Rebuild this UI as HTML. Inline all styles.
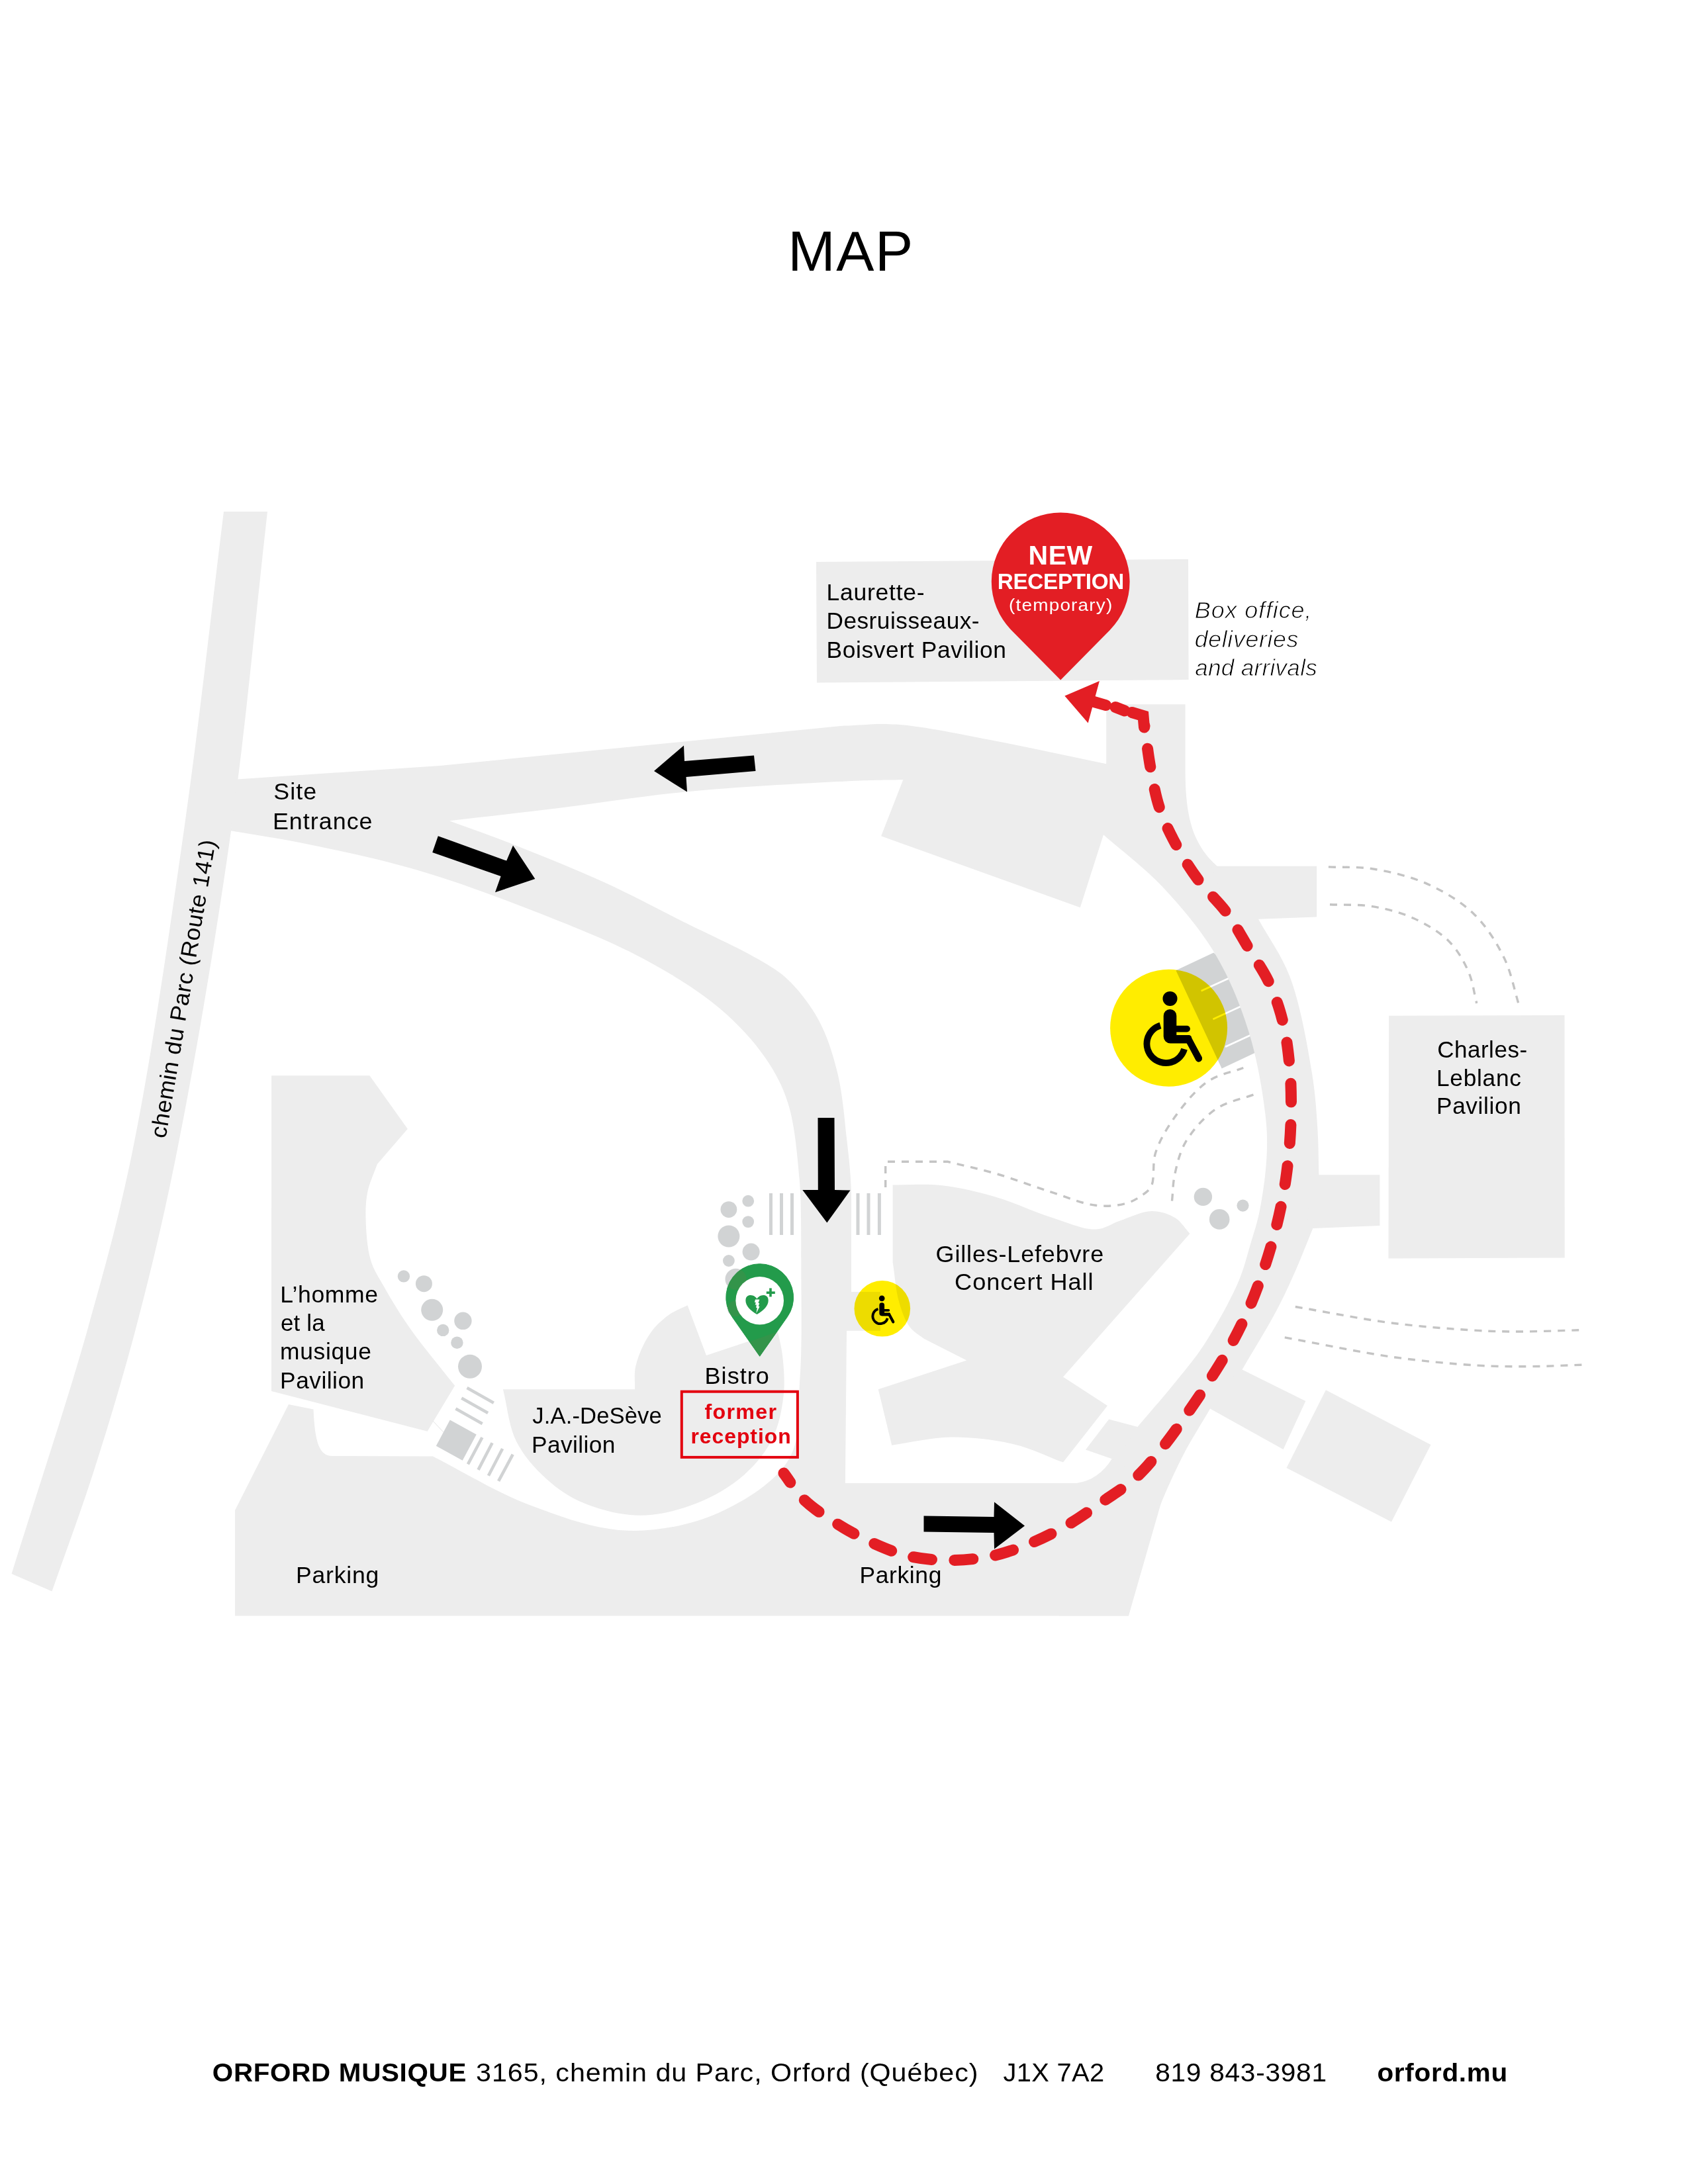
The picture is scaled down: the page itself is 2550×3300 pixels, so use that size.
<!DOCTYPE html>
<html><head><meta charset="utf-8"><title>Map</title>
<style>
html,body{margin:0;padding:0;background:#fff;}
svg{display:block;}
text{font-family:"Liberation Sans", sans-serif;}
</style></head>
<body>
<svg width="2550" height="3300" viewBox="0 0 2550 3300">
<rect width="2550" height="3300" fill="#fff"/>
<path d="M1776.4,1466.2 L1833.3,1439.5 L1870,1470 L1915,1585 L1898.2,1589.7 L1845.7,1614.6 Z" fill="#d1d3d4"/>
<line x1="1814.6" y1="1497.3" x2="1860" y2="1476.5" stroke="#fff" stroke-width="2.6"/>
<line x1="1832.4" y1="1540" x2="1878" y2="1519" stroke="#fff" stroke-width="2.6"/>
<line x1="1851" y1="1581.7" x2="1896" y2="1561" stroke="#fff" stroke-width="2.6"/>
<path d="M338,773 L404,773 C385.7,933.5 371.9,1094 349.2,1254.5 C326.4,1416.3 294.9,1602.4 267.3,1740 C246.7,1842.9 227.3,1923.4 205,2008 C184.6,2085.3 162.2,2159 140,2228 C119.9,2290.3 99,2345.7 78.5,2404.5 L17.5,2378 C55.8,2254.7 100.5,2121.8 132.5,2008 C159.5,1911.9 178.8,1843.2 200,1740 C228.4,1601.6 255.4,1412.4 278.5,1250 C301.3,1090.1 318.2,932 338,773 Z" fill="#ededed"/>
<path d="M358,1177.4 L664.7,1157 L1275,1096.5 C1301.3,1095.9 1323.5,1092.4 1354,1094.6 C1396.8,1097.6 1455.4,1110.6 1507.3,1120.3 C1561.1,1130.4 1616.6,1143 1671.2,1154.3 L1671.2,1064.3 L1790.6,1064.3 L1790.6,1166 C1791,1230 1800,1275 1839,1309 L1901,1388.7 C1916.9,1418 1936,1442.6 1948.8,1476.6 C1964.5,1518 1975.1,1580 1982,1621.8 C1987.1,1653.1 1988.6,1678.2 1990.3,1704.7 C1991.9,1729.1 1991.7,1751.7 1992.4,1775.2 L1983.3,1856 C1974.6,1877.1 1966.5,1898.6 1957.3,1919.4 C1948.2,1940 1940,1958.1 1928.5,1980 C1914.2,2007.2 1893.8,2039.6 1876.5,2069.4 L1828.1,2128.6 C1813.5,2154.1 1798,2177.3 1784.2,2205 C1768.8,2235.9 1753.6,2269.4 1741,2306 C1726.7,2347.4 1716.9,2396.3 1704.9,2441.5 L1600,2441.5 L1679.7,2204.2 C1692.6,2188.1 1704.6,2172.9 1718.5,2156 C1734.3,2136.9 1753.1,2116 1769.8,2095.4 C1786.6,2074.7 1803.1,2056 1818.8,2032 C1837,2004.1 1858.7,1964.9 1870.8,1936.7 C1879.7,1915.8 1883.5,1898.5 1889,1880 C1894.2,1862.6 1899.2,1848.2 1903,1829 C1907.8,1804.8 1912.4,1771.7 1913.6,1746 C1914.6,1723.9 1914.3,1708.1 1911.5,1684 C1907.5,1649.5 1899.1,1599.7 1886.6,1559.6 C1874.2,1519.5 1858.3,1479.7 1836.9,1443.4 C1815.1,1406.4 1785.3,1370.9 1756.2,1340 C1728.5,1310.6 1696.7,1287.5 1667,1261.3 L1631.8,1371.2 L1331.1,1263.3 L1364.3,1178.3 C1342.9,1178.7 1328.6,1178.4 1300,1179.6 C1242.6,1182 1121.3,1188.4 1041,1196 C970.7,1202.7 906.8,1213.4 844,1221 C786.6,1228 734,1233.8 679,1240.2 C711.6,1252.3 741.5,1262.5 776.7,1276.4 C818.9,1293 871.1,1314 914.7,1333.9 C955.1,1352.4 991.3,1372.2 1029.6,1391.4 C1067.9,1410.5 1115.3,1431.6 1144.5,1448.8 C1163.8,1460.2 1176.2,1466.8 1190.5,1480.4 C1207.2,1496.3 1224.1,1518.2 1236.4,1540.8 C1249.4,1564.8 1258.1,1592.3 1265.2,1621.2 C1273,1653.1 1276,1694 1279.5,1724.6 C1282.3,1748.9 1284.4,1767.1 1285.5,1790 C1286.7,1815.3 1285.8,1843.3 1286,1870 L1286,1900 L1210.6,1900 L1210.6,1870 C1209.6,1840.7 1210.5,1813.3 1207.7,1782.1 C1204.4,1746.3 1200.9,1699.9 1190.5,1667.2 C1182.1,1640.5 1171.5,1620.6 1156,1598.2 C1138.2,1572.5 1114.6,1546.8 1087,1523.5 C1054.9,1496.4 1015.4,1472 972.1,1448.8 C921.4,1421.6 857.6,1396.7 799.7,1374.1 C742.6,1351.8 685.2,1330.6 627.3,1313.8 C570.3,1297.2 505.6,1283.8 454.9,1273.5 C415.3,1265.5 384,1261.3 348.6,1255.2 Z" fill="#ededed"/>
<path d="M1233,849 L1795,845 L1795.6,1027 L1234,1031.5 Z" fill="#ededed"/>
<path d="M1830,1308.7 L1989.2,1308.7 L1989.2,1385.5 L1901,1388.7 L1860,1388.7 Z" fill="#ededed"/>
<path d="M1980,1775.2 L2084.4,1775.2 L2084.4,1851.9 L1983.3,1856 L1975,1856 Z" fill="#ededed"/>
<path d="M2098.1,1534.7 L2363.5,1534 L2363.7,1900.6 L2097.5,1901.5 Z" fill="#ededed"/>
<path d="M1876.5,2069.4 L1972.3,2117 L1938.6,2190 L1828.1,2128.6 L1850,2090 Z" fill="#ededed"/>
<path d="M2002.9,2100.3 L2161.5,2183 L2102,2299.5 L1943.5,2218 Z" fill="#ededed"/>
<path d="M1348.6,1790.5 C1373.6,1790.8 1398.1,1788.4 1423.5,1791.3 C1450.3,1794.3 1478.3,1801.2 1505.3,1809 C1532.8,1817 1560.8,1830.7 1587,1839 C1610.6,1846.5 1635.9,1858.2 1655.1,1857.5 C1669.4,1857 1678.8,1848.7 1692,1844.4 C1706.9,1839.5 1725.2,1830.1 1740,1830 C1752.6,1829.9 1765.3,1834.1 1775,1840 C1784.3,1845.6 1790,1856 1797.5,1864 L1606,2080.5 L1673,2124 L1606,2209.6 C1581.5,2200.5 1559,2188.7 1532.5,2182.4 C1503.2,2175.4 1468.4,2171.2 1437.1,2171.5 C1406.7,2171.8 1377.2,2179.6 1347.2,2183.7 L1326.8,2099.3 L1460.3,2055.6 L1396.3,2023 C1389,2017.1 1380.5,2013.2 1374.5,2005.2 C1367.2,1995.5 1362.3,1981.5 1358.1,1967 C1353,1949.5 1351.8,1927 1348.6,1907 Z" fill="#ededed"/>
<path d="M1675.2,2144.4 L1718.5,2156 L1700,2185 L1679.7,2204.2 L1640,2190.6 Z" fill="#ededed"/>
<path d="M410.1,1625.2 L558.4,1625.2 L615.8,1705.7 L569.9,1759.1 C565.1,1772.7 558.4,1786.2 555.5,1800 C552.7,1813.2 552.2,1825.1 552.5,1840 C552.9,1858.9 554.5,1885.6 560,1904 C564.6,1919.4 571.8,1929.3 580,1944 C590.7,1963.1 604.3,1985.5 620,2008 C638.9,2035 664.7,2065.2 687.1,2093.8 L645.6,2162.8 L410,2102 Z" fill="#ededed"/>
<path d="M355,2441.5 L355,2282 L436,2122 L473.5,2129.5 C475.5,2178 482,2200 502,2200 L653.8,2200.4 C702.5,2224.9 750,2255.2 800,2274 C848.5,2292.3 900.1,2311.4 949,2312.8 C995.7,2314.1 1045.9,2303.8 1086.8,2285.2 C1126.6,2267.1 1172,2238.9 1192.1,2204.2 C1211.4,2170.8 1205.1,2128.4 1208.4,2082.6 C1212.6,2023.8 1209.7,1947.5 1210.4,1880 L1210.4,1860 L1286,1860 L1286,1952 L1330,1952 L1330,2010.7 L1279,2010.7 L1276.9,2241 L1626.5,2241 Q1660,2236 1679.7,2204.2 L1760,2250 L1704.9,2441.5 Z" fill="#ededed"/>
<path d="M759.9,2099.3 L959,2099.3 C959.5,2087.4 957.5,2076.2 960.4,2063.7 C963.9,2048.5 972.6,2028.7 981.7,2015.4 C989.6,2003.8 1000,1994.4 1010.1,1987 C1019.1,1980.4 1029.1,1977.1 1038.6,1972.2 L1067,2048.1 L1175,2012 C1177.4,2024.5 1180.7,2035.5 1182.2,2049.5 C1184.1,2067 1186,2089 1183.6,2109.2 C1181.1,2130.7 1176.4,2154.8 1166.5,2174.6 C1156.5,2194.6 1141.6,2213.1 1123.9,2228.7 C1104.4,2245.8 1078.5,2261.1 1052.8,2271.3 C1026.4,2281.7 995.9,2289.8 967.5,2289.8 C939.1,2289.8 907,2281.6 882.2,2271.3 C860.4,2262.2 842.1,2249.6 825.3,2234.4 C807.8,2218.6 790.6,2199.3 779.8,2177.5 C768.4,2154.6 766.5,2125.4 759.9,2099.3 Z" fill="#ededed"/>
<circle cx="609.9" cy="1928.4" r="9.2" fill="#d1d3d4"/>
<circle cx="640.4" cy="1939.7" r="12.5" fill="#d1d3d4"/>
<circle cx="652.7" cy="1979.3" r="16.5" fill="#d1d3d4"/>
<circle cx="699.4" cy="1995.8" r="13.2" fill="#d1d3d4"/>
<circle cx="669.2" cy="2009.9" r="9.2" fill="#d1d3d4"/>
<circle cx="690.4" cy="2028.8" r="9.2" fill="#d1d3d4"/>
<circle cx="710" cy="2064.8" r="18" fill="#d1d3d4"/>
<circle cx="1100.9" cy="1827.6" r="12.4" fill="#d1d3d4"/>
<circle cx="1130.2" cy="1814.7" r="8.9" fill="#d1d3d4"/>
<circle cx="1130.2" cy="1846.1" r="8.9" fill="#d1d3d4"/>
<circle cx="1100.9" cy="1868" r="16.5" fill="#d1d3d4"/>
<circle cx="1134.6" cy="1891.6" r="13" fill="#d1d3d4"/>
<circle cx="1100.9" cy="1905" r="8.9" fill="#d1d3d4"/>
<circle cx="1111.5" cy="1932.8" r="16" fill="#d1d3d4"/>
<circle cx="1111" cy="1977.2" r="12" fill="#d1d3d4"/>
<circle cx="1144.4" cy="1966.2" r="13.6" fill="#d1d3d4"/>
<circle cx="1817.4" cy="1808.4" r="13.7" fill="#d1d3d4"/>
<circle cx="1842.2" cy="1842.4" r="15.3" fill="#d1d3d4"/>
<circle cx="1877.5" cy="1821.6" r="9.1" fill="#d1d3d4"/>
<rect x="1162" y="1803" width="5" height="63" fill="#d1d3d4"/>
<rect x="1178" y="1803" width="5" height="63" fill="#d1d3d4"/>
<rect x="1194" y="1803" width="5" height="63" fill="#d1d3d4"/>
<rect x="1293.5" y="1803" width="5" height="63" fill="#d1d3d4"/>
<rect x="1309.5" y="1803" width="5" height="63" fill="#d1d3d4"/>
<rect x="1325.9" y="1803" width="5" height="63" fill="#d1d3d4"/>
<line x1="705.5" y1="2096.9" x2="745.8" y2="2119.8" stroke="#d1d3d4" stroke-width="4.6"/>
<line x1="697.2" y1="2112.5" x2="737.1" y2="2135" stroke="#d1d3d4" stroke-width="4.6"/>
<line x1="688.4" y1="2128.6" x2="728.7" y2="2151.3" stroke="#d1d3d4" stroke-width="4.6"/>
<line x1="728.4" y1="2172" x2="706.9" y2="2212.3" stroke="#d1d3d4" stroke-width="4.6"/>
<line x1="743.6" y1="2180.2" x2="722.5" y2="2220.9" stroke="#d1d3d4" stroke-width="4.6"/>
<line x1="759.1" y1="2189" x2="737.9" y2="2229.7" stroke="#d1d3d4" stroke-width="4.6"/>
<line x1="774.7" y1="2197.6" x2="753.1" y2="2237.9" stroke="#d1d3d4" stroke-width="4.6"/>
<path d="M679.8,2145.4 L719.7,2167.4 L698.7,2206.8 L658.8,2184.8 Z" fill="#d1d3d4"/>
<line x1="654.2" y1="2147.3" x2="669.7" y2="2163.7" stroke="#dcdcdc" stroke-width="0.8"/>
<path d="M1337.7,1794 L1337.7,1755.3 L1431.7,1755.3 C1456.2,1761.4 1480.3,1766.3 1505.3,1773.6 C1532,1781.4 1560.9,1792.6 1587,1800.9 C1610.7,1808.4 1634.6,1818.9 1655.1,1821.3 C1671.4,1823.2 1687.5,1822 1700,1818.7 C1709.8,1816.1 1718,1811.2 1724.9,1806.3 C1730.8,1802.1 1735.9,1798.9 1739.4,1791.8 C1744.8,1780.7 1740.4,1758.4 1745.6,1742 C1751.4,1723.8 1762.3,1705.3 1774.6,1688.1 C1788.1,1669.2 1805.9,1646.8 1824.4,1634.2 C1840.8,1623.1 1860.3,1620.4 1878.3,1613.5" fill="none" stroke="#c4c4c4" stroke-width="3.4" stroke-dasharray="11 10"/>
<path d="M1770.5,1814.6 C1771.9,1801.5 1771.6,1788.9 1774.6,1775.2 C1778,1759.4 1782,1741.1 1791.2,1725.4 C1801.7,1707.6 1819,1687.8 1836.9,1675.7 C1854.4,1663.9 1877,1660.5 1897,1652.9" fill="none" stroke="#c4c4c4" stroke-width="3.4" stroke-dasharray="11 10"/>
<path d="M2006.9,1309.9 C2029,1310.9 2050.1,1309.2 2073.2,1312.8 C2099.5,1316.9 2130.5,1324.1 2156.2,1335.6 C2181.6,1347 2207.2,1362.3 2226.7,1381.2 C2245.8,1399.7 2260.8,1424.1 2272.3,1447.6 C2283.4,1470.5 2287.5,1496 2295.1,1520.2" fill="none" stroke="#c4c4c4" stroke-width="3.4" stroke-dasharray="11 10"/>
<path d="M2009,1366.7 C2030.4,1367.7 2052.2,1366.1 2073.2,1369.6 C2094.3,1373.1 2116,1378.6 2135.4,1387.5 C2154.7,1396.3 2175.2,1408.4 2189.3,1422.7 C2202.2,1435.8 2211.4,1452.4 2218.4,1468.3 C2225,1483.5 2226.7,1500.1 2230.8,1516" fill="none" stroke="#c4c4c4" stroke-width="3.4" stroke-dasharray="11 10"/>
<path d="M1956.8,1974.5 C2005.8,1982.7 2056.5,1993.2 2103.9,1999.2 C2147.9,2004.8 2196.5,2008.4 2231.9,2010.4 C2256.9,2011.8 2272.6,2012 2295.9,2012 C2323.9,2012 2357.7,2010.5 2388.6,2009.7" fill="none" stroke="#c4c4c4" stroke-width="3.4" stroke-dasharray="11 10"/>
<path d="M1940.8,2020.9 C1995.2,2030.7 2052.7,2043.2 2103.9,2050.4 C2149,2056.7 2194.2,2060.9 2231.9,2063.1 C2261.6,2064.9 2285.2,2064.9 2311.9,2064.7 C2338.5,2064.5 2365.2,2063 2391.8,2062.2" fill="none" stroke="#c4c4c4" stroke-width="3.4" stroke-dasharray="11 10"/>
<path d="M661.8,1263.2 L765.2,1300.6 L775,1277.6 L808.3,1328.1 L748,1348.3 L756.6,1324.1 L653.2,1287.9 Z" fill="#000"/>
<path d="M988,1165 L1033,1126.5 L1034,1150 L1139,1141.5 L1141.5,1165 L1036.5,1174 L1038,1196.5 Z" fill="#000"/>
<path d="M1235.5,1689 L1260.5,1689 L1261,1798 L1284.5,1798.5 L1249.3,1847.5 L1212.3,1798 L1235.8,1798 Z" fill="#000"/>
<path d="M1395.5,2290.5 L1501.5,2292 L1502,2269.5 L1548,2305.5 L1502,2340.5 L1501.5,2316 L1395.5,2314.5 Z" fill="#000"/>
<path d="M1184,2226 C1194,2239.2 1201.8,2253.5 1214,2265.5 C1227.3,2278.6 1244.7,2289.8 1261.5,2300.5 C1278.8,2311.5 1297.6,2322 1316.5,2330.5 C1335.1,2338.9 1354.1,2347 1374,2351.5 C1394.1,2356.1 1415.7,2357.6 1436.5,2357.5 C1457.3,2357.4 1478.6,2355.4 1499,2351 C1519.5,2346.6 1539.7,2339 1559,2331 C1578,2323.1 1596.2,2313.8 1614,2303.5 C1632,2293 1649.4,2280.4 1666.5,2268.5 C1683.2,2256.9 1700.4,2246.7 1715.5,2233 C1731,2218.9 1744.7,2201.7 1758,2185 C1771.3,2168.3 1783.4,2150.5 1795.5,2133 C1807.5,2115.7 1819.5,2097.9 1830.5,2080.5 C1841.1,2063.8 1851.1,2047.9 1860.5,2030.5 C1870.3,2012.4 1879.7,1993.3 1888,1974 C1896.4,1954.5 1903.8,1934.1 1910.5,1914 C1917.1,1894.1 1923,1874.1 1928,1854 C1933,1834.1 1937.2,1814.3 1940.5,1794 C1943.9,1773.5 1946.3,1752.4 1948,1731.5 C1949.7,1710.7 1950.5,1689.6 1950.5,1669 C1950.5,1648.8 1950,1629.3 1948,1609 C1945.9,1587.7 1943.2,1564.8 1938,1544 C1933,1524 1926.6,1505 1918,1486.5 C1909.2,1467.5 1896.4,1449.6 1885.5,1431.5 C1874.8,1413.7 1865.3,1395.7 1853,1379 C1840.4,1361.9 1823.3,1347.2 1810.5,1330 C1798,1313.1 1786.8,1295.2 1777,1277 C1767.4,1259.2 1758.5,1241.2 1752,1222 C1745.4,1202.3 1741.8,1180.8 1738,1160 C1734.2,1139.2 1732,1118 1729,1097" fill="none" stroke="#e31e24" stroke-width="17" stroke-linecap="round" stroke-dasharray="28 34.4" stroke-dashoffset="11"/>
<path d="M1710,1076.5 L1727,1081.5 L1728.5,1099" fill="none" stroke="#e31e24" stroke-width="17" stroke-linecap="round" stroke-linejoin="miter"/>
<path d="M1685,1068.5 L1699,1074" fill="none" stroke="#e31e24" stroke-width="17" stroke-linecap="round"/>
<path d="M1651,1060 L1670.6,1065.6" fill="none" stroke="#e31e24" stroke-width="17" stroke-linecap="round"/>
<path d="M1608.4,1051.4 L1660.9,1028.9 L1643.7,1092.5 Z" fill="#e31e24"/>
<defs><g id="wc"><circle cx="-4.5" cy="-45.6" r="11" fill="#000"/><path d="M-14.3,-19.8 A9.8,9.8 0 0 1 5.3,-19.8 L5.3,9.5 L24.5,9.5 Q27.8,10 28.4,14.2 L43.4,43.2 A5,5 0 0 1 34.6,47.8 L21.2,21.9 L-4,21.9 A10.3,10.3 0 0 1 -14.3,11.6 Z" fill="#000"/><line x1="0" y1="0.1" x2="21" y2="0.1" stroke="#000" stroke-width="9.8" stroke-linecap="round"/><line x1="23" y1="15.5" x2="39" y2="44.5" stroke="#000" stroke-width="10" stroke-linecap="round"/><path d="M-19,-5 A28.9,28.9 0 1 0 17.1,30.7" fill="none" stroke="#000" stroke-width="9.8"/></g></defs>
<circle cx="1765.6" cy="1553.3" r="88.5" fill="#ffed00" style="mix-blend-mode:multiply"/>
<use href="#wc" transform="translate(1772,1554.5)"/>
<circle cx="1332.8" cy="1977.3" r="42.3" fill="#ffed00" style="mix-blend-mode:multiply"/>
<use href="#wc" transform="translate(1334,1979.8) scale(0.3935)"/>
<path d="M1147.7,2049.3 L1189.4,1989.8 A50.9,50.9 0 1 0 1106,1989.8 Z" fill="#239b4b" stroke="#239b4b" stroke-width="1" stroke-linejoin="round"/>
<clipPath id="pinclip"><path d="M1147.7,2049.3 L1189.4,1989.8 A50.9,50.9 0 1 0 1106,1989.8 Z"/></clipPath>
<g clip-path="url(#pinclip)" fill="#33944a">
<circle cx="1111.5" cy="1932.8" r="16"/>
<circle cx="1111" cy="1977.2" r="12"/>
<circle cx="1144.4" cy="1966.2" r="13.6"/>
<path d="M1040,2060 L1175,2012 L1190,2060 L1140,2060 Z"/>
</g>
<circle cx="1147.7" cy="1965.2" r="36.3" fill="#fff"/>
<path d="M1143.5,1986.1 C1133,1980 1126.4,1973 1126.4,1965 C1126.4,1958 1131,1957 1134,1957 C1138.5,1957 1142,1960 1143.5,1962.4 C1145,1960 1148.5,1957 1153,1957 C1156,1957 1160.7,1958 1160.7,1965 C1160.7,1973 1154,1980 1143.5,1986.1 Z" fill="#239b4b"/>
<path d="M1140.9,1963.5 L1147.4,1963.5 L1145.5,1969 L1147.2,1969 L1145.8,1974 L1147.6,1974 L1142.4,1984.6 L1143.8,1976 L1142.2,1976 L1142.8,1971.5 L1140.6,1971.5 L1142,1968 L1140,1968 Z" fill="#fff"/>
<rect x="1157.8" y="1951.4" width="13" height="3.6" fill="#239b4b"/>
<rect x="1162.2" y="1946.4" width="3.6" height="13" fill="#239b4b"/>
<path d="M1602.2,1027.5 L1676.5,952.2 A104.4,104.4 0 1 0 1527.9,952.2 Z" fill="#e31e24"/>
<rect x="1029.8" y="2102.7" width="175.1" height="99.2" fill="none" stroke="#e3000f" stroke-width="4"/>
<g font-family="Liberation Sans, sans-serif">
<text x="1190.3" y="408.9" font-size="84.4" font-weight="normal" font-style="normal" fill="#000000" text-anchor="start" textLength="190.5" lengthAdjust="spacingAndGlyphs" letter-spacing="1.5">MAP</text>
<text x="413.3" y="1207.5" font-size="34.3" font-weight="normal" font-style="normal" fill="#000000" text-anchor="start" textLength="65.8" lengthAdjust="spacingAndGlyphs" letter-spacing="1">Site</text>
<text x="411.9" y="1252.5" font-size="34.3" font-weight="normal" font-style="normal" fill="#000000" text-anchor="start" textLength="151.7" lengthAdjust="spacingAndGlyphs" letter-spacing="1">Entrance</text>
<text x="1248.5" y="906.5" font-size="34.3" font-weight="normal" font-style="normal" fill="#000000" text-anchor="start" textLength="148.9" lengthAdjust="spacingAndGlyphs" letter-spacing="0.7">Laurette-</text>
<text x="1248.5" y="950" font-size="34.3" font-weight="normal" font-style="normal" fill="#000000" text-anchor="start" textLength="231.6" lengthAdjust="spacingAndGlyphs" letter-spacing="0.5">Desruisseaux-</text>
<text x="1248.5" y="993.5" font-size="34.3" font-weight="normal" font-style="normal" fill="#000000" text-anchor="start" textLength="272" lengthAdjust="spacingAndGlyphs" letter-spacing="0.6">Boisvert Pavilion</text>
<text x="1804.8" y="934" font-size="34.3" font-weight="normal" font-style="italic" fill="#000000" text-anchor="start" textLength="177.4" lengthAdjust="spacingAndGlyphs" letter-spacing="0.8" stroke="#fff" stroke-width="0.9">Box office,</text>
<text x="1804.8" y="977.5" font-size="34.3" font-weight="normal" font-style="italic" fill="#000000" text-anchor="start" textLength="157.2" lengthAdjust="spacingAndGlyphs" letter-spacing="0.6" stroke="#fff" stroke-width="0.9">deliveries</text>
<text x="1805.2" y="1021" font-size="34.3" font-weight="normal" font-style="italic" fill="#000000" text-anchor="start" textLength="184.9" lengthAdjust="spacingAndGlyphs" letter-spacing="0.3" stroke="#fff" stroke-width="0.9">and arrivals</text>
<text x="1553.5" y="853" font-size="40.5" font-weight="bold" font-style="normal" fill="#fff" text-anchor="start" textLength="97.4" lengthAdjust="spacingAndGlyphs" letter-spacing="0.6">NEW</text>
<text x="1506.7" y="890" font-size="33.6" font-weight="bold" font-style="normal" fill="#fff" text-anchor="start" textLength="191.4" lengthAdjust="spacingAndGlyphs" letter-spacing="-0.3">RECEPTION</text>
<text x="1524" y="922.6" font-size="26" font-weight="normal" font-style="normal" fill="#fff" text-anchor="start" textLength="157.5" lengthAdjust="spacingAndGlyphs" letter-spacing="1.1">(temporary)</text>
<text x="2171.2" y="1598" font-size="34.3" font-weight="normal" font-style="normal" fill="#000000" text-anchor="start" textLength="136.4" lengthAdjust="spacingAndGlyphs" letter-spacing="0.5">Charles-</text>
<text x="2170" y="1640.5" font-size="34.3" font-weight="normal" font-style="normal" fill="#000000" text-anchor="start" textLength="128.6" lengthAdjust="spacingAndGlyphs" letter-spacing="0.7">Leblanc</text>
<text x="2170" y="1683" font-size="34.3" font-weight="normal" font-style="normal" fill="#000000" text-anchor="start" textLength="128.4" lengthAdjust="spacingAndGlyphs" letter-spacing="0.6">Pavilion</text>
<text x="1413.6" y="1906.5" font-size="34.3" font-weight="normal" font-style="normal" fill="#000000" text-anchor="start" textLength="254.4" lengthAdjust="spacingAndGlyphs" letter-spacing="0.8">Gilles-Lefebvre</text>
<text x="1442.1" y="1949" font-size="34.3" font-weight="normal" font-style="normal" fill="#000000" text-anchor="start" textLength="210.4" lengthAdjust="spacingAndGlyphs" letter-spacing="0.9">Concert Hall</text>
<text x="423.2" y="1968.2" font-size="34.3" font-weight="normal" font-style="normal" fill="#000000" text-anchor="start" textLength="148.4" lengthAdjust="spacingAndGlyphs" letter-spacing="0.6">L&#8217;homme</text>
<text x="423.9" y="2010.8" font-size="34.3" font-weight="normal" font-style="normal" fill="#000000" text-anchor="start" textLength="66.9" lengthAdjust="spacingAndGlyphs" letter-spacing="0.2">et la</text>
<text x="423" y="2053.8" font-size="34.3" font-weight="normal" font-style="normal" fill="#000000" text-anchor="start" textLength="138.6" lengthAdjust="spacingAndGlyphs" letter-spacing="0.7">musique</text>
<text x="423.1" y="2098.1" font-size="34.3" font-weight="normal" font-style="normal" fill="#000000" text-anchor="start" textLength="127.6" lengthAdjust="spacingAndGlyphs" letter-spacing="0.5">Pavilion</text>
<text x="804.3" y="2151.3" font-size="34.3" font-weight="normal" font-style="normal" fill="#000000" text-anchor="start" textLength="195.6" lengthAdjust="spacingAndGlyphs" letter-spacing="0.1">J.A.-DeS&#232;ve</text>
<text x="803" y="2194.5" font-size="34.3" font-weight="normal" font-style="normal" fill="#000000" text-anchor="start" textLength="126.9" lengthAdjust="spacingAndGlyphs" letter-spacing="0.4">Pavilion</text>
<text x="1064.5" y="2091.3" font-size="34.3" font-weight="normal" font-style="normal" fill="#000000" text-anchor="start" textLength="98.4" lengthAdjust="spacingAndGlyphs" letter-spacing="1">Bistro</text>
<text x="1064.5" y="2143.7" font-size="30.5" font-weight="bold" font-style="normal" fill="#e3000f" text-anchor="start" textLength="109.9" lengthAdjust="spacingAndGlyphs" letter-spacing="1.2">former</text>
<text x="1043.5" y="2180.7" font-size="30.5" font-weight="bold" font-style="normal" fill="#e3000f" text-anchor="start" textLength="152.1" lengthAdjust="spacingAndGlyphs" letter-spacing="0.9">reception</text>
<text x="447" y="2392" font-size="34.3" font-weight="normal" font-style="normal" fill="#000000" text-anchor="start" textLength="126.2" lengthAdjust="spacingAndGlyphs" letter-spacing="0.8">Parking</text>
<text x="1298.5" y="2392" font-size="34.3" font-weight="normal" font-style="normal" fill="#000000" text-anchor="start" textLength="124.5" lengthAdjust="spacingAndGlyphs" letter-spacing="0.6">Parking</text>
<g transform="translate(250.6,1719.5) rotate(-80.5) scale(1.0322,1)"><text x="-1.5" y="0" font-size="34.3" fill="#000000" letter-spacing="0.536">chemin du Parc (Route 141)</text></g>
<text x="320.8" y="3145.2" font-size="39.4" font-weight="bold" font-style="normal" fill="#000000" text-anchor="start" textLength="384.3" lengthAdjust="spacingAndGlyphs" letter-spacing="0.7">ORFORD MUSIQUE</text>
<text x="719" y="3145.2" font-size="39.4" font-weight="normal" font-style="normal" fill="#000000" text-anchor="start" textLength="759.4" lengthAdjust="spacingAndGlyphs" letter-spacing="0.9">3165, chemin du Parc, Orford (Qu&#233;bec)</text>
<text x="1515.4" y="3145.2" font-size="39.4" font-weight="normal" font-style="normal" fill="#000000" text-anchor="start" textLength="153" lengthAdjust="spacingAndGlyphs" letter-spacing="0.3">J1X 7A2</text>
<text x="1745.2" y="3145.2" font-size="39.4" font-weight="normal" font-style="normal" fill="#000000" text-anchor="start" textLength="259.6" lengthAdjust="spacingAndGlyphs" letter-spacing="0.7">819 843-3981</text>
<text x="2080.4" y="3145.2" font-size="39.4" font-weight="bold" font-style="normal" fill="#000000" text-anchor="start" textLength="197.6" lengthAdjust="spacingAndGlyphs" letter-spacing="0.7">orford.mu</text>
</g>
</svg>
</body></html>
